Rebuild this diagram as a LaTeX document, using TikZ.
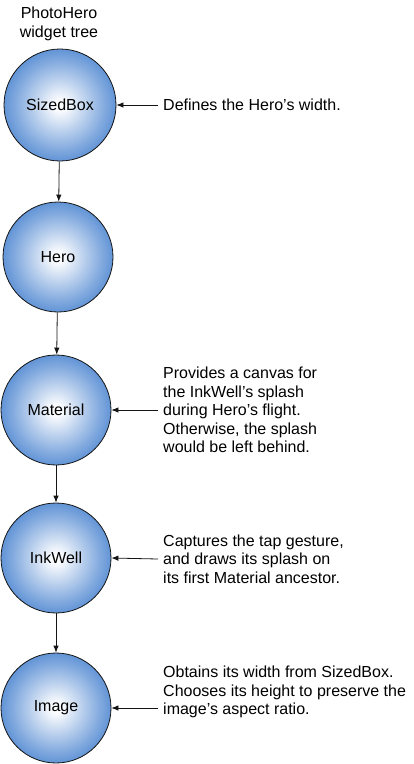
\documentclass[tikz,border=0pt]{standalone}
\usepackage{fontspec}
\setmainfont{Liberation Sans}
\usetikzlibrary{arrows.meta}
\definecolor{ballblue}{RGB}{98,148,214}
\definecolor{lineblack}{RGB}{20,20,20}
\pgfdeclareradialshading{ballshade}{\pgfpoint{0bp}{0bp}}{color(0bp)=(white); color(3bp)=(white!95!ballblue); color(12bp)=(ballblue!45!white); color(20bp)=(ballblue!80!white); color(25bp)=(ballblue); color(50bp)=(ballblue)}
\tikzset{
  ball/.style={circle, draw=lineblack, line width=0.8pt, shading=ballshade, minimum size=110pt, inner sep=0pt, font=\fontsize{16}{18.5}\selectfont},
  note/.style={anchor=west, align=left, inner xsep=5pt, inner ysep=0pt, font=\fontsize{16}{18.5}\selectfont},
  link/.style={draw=lineblack, line width=0.8pt, -{Latex[length=7pt,width=5.5pt]}}
}
\begin{document}
\begin{tikzpicture}[x=1pt,y=-1pt]
\useasboundingbox (0,0) rectangle (413,764);
\node[align=center, inner sep=0pt, font=\fontsize{16}{18.5}\selectfont] (title) at (59,24) {PhotoHero\\widget tree};
\node[ball, minimum size=112pt] (sized) at (60,105) {SizedBox};
\node[ball] (hero) at (58,257) {Hero};
\node[ball] (material) at (56,410) {Material};
\node[ball] (inkwell) at (56,558) {InkWell};
\node[ball] (image) at (56,708) {Image};
\draw[link] (sized) -- (hero);
\draw[link] (hero) -- (material);
\draw[link] (material) -- (inkwell);
\draw[link] (inkwell) -- (image);
\node[note] (n1) at (158,105) {Defines the Hero’s width.};
\node[note] (n2) at (158,410) {Provides a canvas for\\the InkWell’s splash\\during Hero’s flight.\\Otherwise, the splash\\would be left behind.};
\node[note] (n3) at (158,559) {Captures the tap gesture,\\and draws its splash on\\its first Material ancestor.};
\node[note] (n4) at (158,692) {Obtains its width from SizedBox.\\Chooses its height to preserve the\\image’s aspect ratio.};
\draw[link] (n1.west) -- (sized.east);
\draw[link] (n2.west) -- (material.east);
\draw[link] (n3.west) -- (inkwell.east);
\draw[link] (n4.west |- image.east) -- (image.east);
\end{tikzpicture}
\end{document}
